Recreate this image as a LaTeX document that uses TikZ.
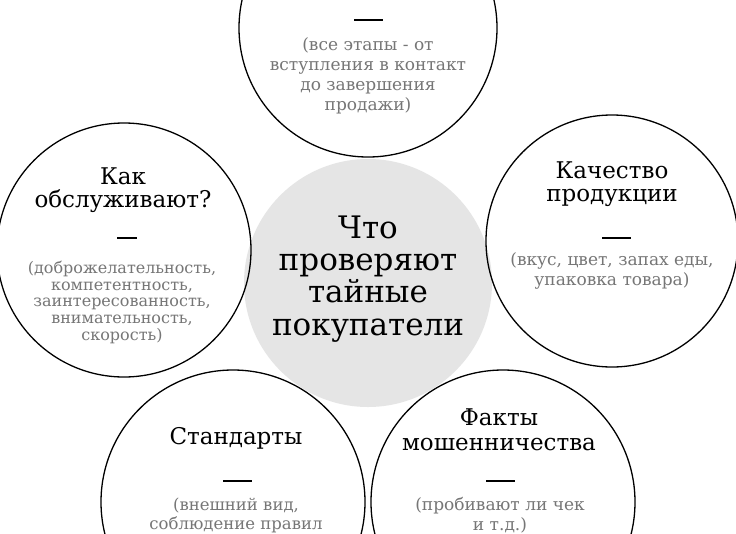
\documentclass[tikz,border=0pt]{standalone}
\usepackage{fontspec}
\setmainfont{DejaVu Serif}
\definecolor{centregray}{RGB}{229,229,229}
\definecolor{notegray}{RGB}{118,118,118}
\begin{document}
\begin{tikzpicture}[auto, x=1pt, y=-1pt,
    topic/.style ={circle, draw, line width=1.3pt, minimum size=254pt, inner sep=0pt},
    heading/.style ={align=center, anchor=base, inner sep=0pt, font=\fontsize{23}{22.5}\selectfont},
    bar/.style ={fill=black, minimum width=29pt, minimum height=1.8pt, inner sep=0pt},
    note/.style ={align=center, anchor=base, inner sep=0pt, text=notegray, font=\fontsize{17}{20}\selectfont}]
   \clip (0,0) rectangle (736,533);
   \fill[white] (0,0) rectangle (736,533);

   \node[circle, fill=centregray, minimum size=248pt] (C) at (368,283) {};
   \node[topic, minimum size=258pt] (T) at (368,28)  {};
   \node[topic] (L) at (124,250) {};
   \node[topic, minimum size=252pt] (R) at (612,241) {};
   \node[topic, minimum size=264pt] (S) at (233,502) {};
   \node[topic, minimum size=264pt] (F) at (503,502) {};

   \node[heading, font=\fontsize{31}{32.3}\selectfont] (C1) at (368,335) {Что\\проверяют\\тайные\\покупатели};

   \node[bar] (T2) at (368,20) {};
   \node[note] (T3) at (368,110) {(все этапы - от\\вступления в контакт\\до завершения\\продажи)};

   \node[heading] (L1) at (123,207) {Как\\обслуживают?};
   \node[bar, minimum width=20pt] (L2) at (127,238) {};
   \node[note, font=\fontsize{16}{16.6}\selectfont] (L3) at (122,340) {(доброжелательность,\\компетентность,\\заинтересованность,\\внимательность,\\скорость)};

   \node[heading] (R1) at (612,201) {Качество\\продукции};
   \node[bar] (R2) at (616,238) {};
   \node[note] (R3) at (612,285) {(вкус, цвет, запах еды,\\упаковка товара)};

   \node[heading] (S1) at (236,444) {Стандарты};
   \node[bar] (S2) at (237,481) {};
   \node[note, font=\fontsize{16.5}{19}\selectfont] (S3) at (236,529) {(внешний вид,\\соблюдение правил};

   \node[heading, font=\fontsize{23}{25}\selectfont] (F1) at (499,450) {Факты\\мошенничества};
   \node[bar] (F2) at (500,481) {};
   \node[note] (F3) at (500,530) {(пробивают ли чек\\и т.д.)};

 \end{tikzpicture}
\end{document}
